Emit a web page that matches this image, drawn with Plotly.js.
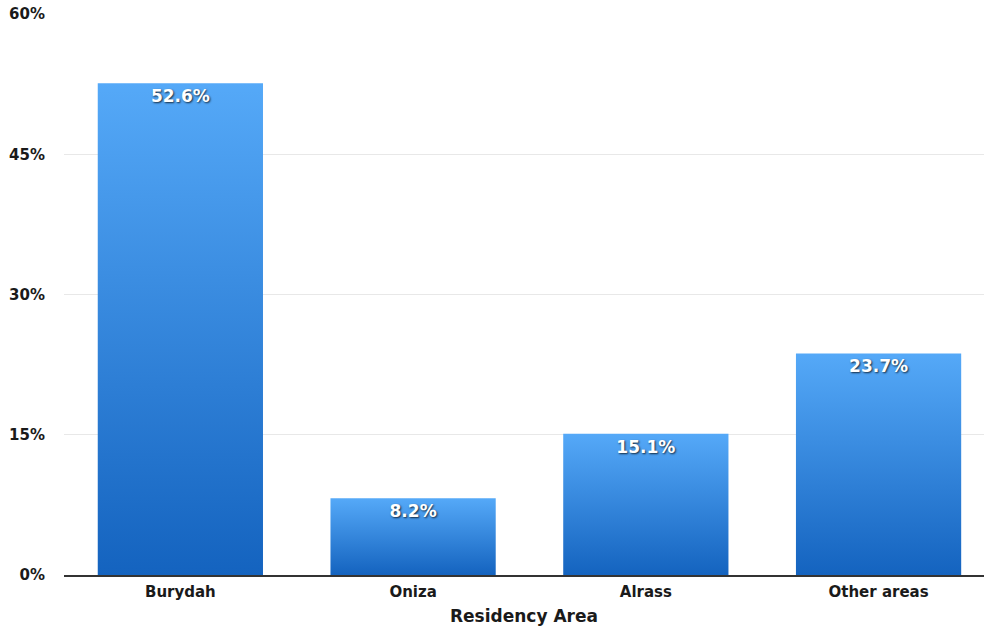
<!DOCTYPE html>
<html>
<head>
<meta charset="utf-8">
<script src="https://cdn.plot.ly/plotly-3.0.1.min.js"></script>
<style>html,body{margin:0;padding:0;background:#fff;}#chart{width:984px;height:629px;}</style>
</head>
<body>
<div id="chart"></div>
<script>
const categories = ["Burydah", "Oniza", "Alrass", "Other areas"];
const shares = [52.6, 8.2, 15.1, 23.7];
const yTicks = [0, 15, 30, 45, 60];

const FONT = "DejaVu Sans, Liberation Sans, Arial, sans-serif";

const trace = {
  type: "bar",
  x: categories,
  y: shares,
  text: shares.map(v => v.toFixed(1) + "%"),
  textposition: "inside",
  insidetextanchor: "end",
  textangle: 0,
  constraintext: "none",
  textfont: {family: FONT, size: 17, color: "#ffffff", weight: "bold", shadow: "1px 1px 2px rgba(0,0,0,0.75)"},
  marker: {color: "#3d8fe6", line: {width: 0}},
  hoverinfo: "none"
};

const layout = {
  width: 984, height: 629,
  margin: {l: 64, r: 0, t: 14, b: 54},
  paper_bgcolor: "#ffffff", plot_bgcolor: "#ffffff",
  bargap: 0.29,
  showlegend: false,
  font: {family: FONT, color: "#1a1a1a"},
  xaxis: {
    range: [-0.5, 3.453],
    showgrid: false, zeroline: false,
    showline: true, linecolor: "#333333", linewidth: 1.5,
    ticks: "", ticklabelstandoff: 2,
    tickfont: {size: 15, weight: "bold", color: "#1a1a1a"},
    title: {text: "Residency Area", font: {size: 17, weight: "bold", color: "#1a1a1a"}, standoff: 10}
  },
  yaxis: {
    range: [0, 60],
    tickvals: yTicks,
    ticktext: yTicks.map(v => v + "%"),
    showgrid: true, gridcolor: "#e8e8e8", gridwidth: 1,
    zeroline: false, showline: false, ticks: "",
    ticklabelstandoff: 18,
    tickfont: {size: 15, weight: "bold", color: "#1a1a1a"}
  }
};

function applyGradient(gd) {
  const svg = gd.querySelector("svg.main-svg");
  if (!svg) return;
  const ns = "http://www.w3.org/2000/svg";
  let defs = svg.querySelector("defs");
  if (!defs) { defs = document.createElementNS(ns, "defs"); svg.insertBefore(defs, svg.firstChild); }
  if (!svg.querySelector("#barGrad")) {
    const lg = document.createElementNS(ns, "linearGradient");
    lg.setAttribute("id", "barGrad");
    lg.setAttribute("x1", "0"); lg.setAttribute("y1", "0");
    lg.setAttribute("x2", "0"); lg.setAttribute("y2", "1");
    const s1 = document.createElementNS(ns, "stop");
    s1.setAttribute("offset", "0"); s1.setAttribute("stop-color", "#55a9f8");
    const s2 = document.createElementNS(ns, "stop");
    s2.setAttribute("offset", "1"); s2.setAttribute("stop-color", "#1463bf");
    lg.appendChild(s1); lg.appendChild(s2);
    defs.appendChild(lg);
  }
  gd.querySelectorAll(".bars .point path").forEach(p => { p.style.fill = "url(#barGrad)"; });
}

const gd = document.getElementById("chart");
Plotly.newPlot(gd, [trace], layout, {displayModeBar: false, staticPlot: true}).then(() => applyGradient(gd));
</script>
</body>
</html>
